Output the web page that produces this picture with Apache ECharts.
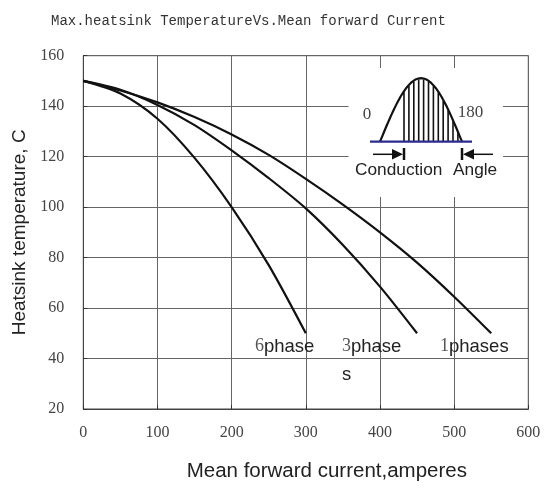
<!DOCTYPE html>
<html><head><meta charset="utf-8">
<script src="https://cdn.jsdelivr.net/npm/echarts@6/dist/echarts.min.js"></script>
<style>html,body{margin:0;padding:0;background:#fff}#c{width:549px;height:491px}</style>
</head><body><div id="c"></div>
<script>
// ---- data ----
const titleText = 'Max.heatsink TemperatureVs.Mean forward Current';
const xTicks = [0, 100, 200, 300, 400, 500, 600];
const yTicks = [20, 40, 60, 80, 100, 120, 140, 160];

const x6 = [0, 50, 100, 150, 200, 250, 300];
const y6 = [150, 145, 135, 119.5, 100, 77, 50];

const x3 = [0, 50, 100, 150, 200, 250, 300, 350, 400, 450];
const y3 = [150, 146.5, 140.5, 132.5, 122.5, 111.5, 99.5, 85, 68.5, 50];

const x1 = [0, 50, 100, 150, 200, 250, 300, 350, 400, 450, 500, 550];
const y1 = [150, 146.2, 141.5, 135.7, 128.8, 120.7, 111.2, 101, 90, 78, 64.5, 50];

const seriesNames = ['6phase', '3phases', '1phases'];
const insetLabels = ['0', '180', 'Conduction', 'Angle'];

function zip(xs, ys) { return xs.map((x, i) => [x, ys[i]]); }

// ---- inset geometry (illustration) ----
const ix0 = 380, ix1 = 462, iBase = 141.7, iAmp = 63.5;
const sinePts = [];
for (let i = 0; i <= 60; i++) {
  const t = i / 60;
  sinePts.push([ix0 + t * (ix1 - ix0), iBase - iAmp * Math.sin(Math.PI * t)]);
}
const hatch = [];
for (let x = 404; x < ix1 - 1; x += 4.9) {
  const t = (x - ix0) / (ix1 - ix0);
  hatch.push({ type: 'line', z: 12, shape: { x1: x, y1: iBase, x2: x, y2: iBase - iAmp * Math.sin(Math.PI * t) + 1 },
    style: { stroke: '#111', lineWidth: 1.6 } });
}

const serif = 'Liberation Serif';
const sans = 'Liberation Sans';

const chart = echarts.init(document.getElementById('c'), null, { renderer: 'canvas' });
const lineStyle = { color: '#111', width: 2.2 };
chart.setOption({
  animation: false,
  backgroundColor: '#fff',
  grid: { left: 83.3, right: 20.7, top: 55.7, bottom: 82, show: true, borderColor: '#444', borderWidth: 1 },
  xAxis: {
    type: 'value', min: 0, max: 600, interval: 100,
    name: 'Mean forward current,amperes', nameLocation: 'middle', nameGap: 52,
    nameTextStyle: { fontFamily: sans, fontSize: 20.5, color: '#222', padding: [0, 0, 0, 42] },
    axisLine: { show: true, lineStyle: { color: '#444', width: 1 } },
    axisTick: { show: true, inside: true, length: 4, lineStyle: { color: '#333' } },
    splitLine: { show: true, lineStyle: { color: '#666', width: 1 } },
    axisLabel: { margin: 16, fontFamily: serif, fontSize: 16, color: '#444',
      formatter: v => xTicks.includes(v) ? String(v) : '' }
  },
  yAxis: {
    type: 'value', min: 20, max: 160, interval: 20,
    name: 'Heatsink temperature, C', nameLocation: 'middle', nameGap: 49, nameRotate: 90,
    nameTextStyle: { fontFamily: sans, fontSize: 19, color: '#222' },
    axisLine: { show: true, lineStyle: { color: '#444', width: 1 } },
    axisTick: { show: true, inside: true, length: 4, lineStyle: { color: '#333' } },
    splitLine: { show: true, lineStyle: { color: '#666', width: 1 } },
    axisLabel: { margin: 19, fontFamily: serif, fontSize: 16, color: '#444',
      formatter: v => yTicks.includes(v) ? String(v) : '' }
  },
  title: {
    text: titleText, left: 46, top: 9,
    textStyle: { fontFamily: 'Liberation Mono', fontSize: 14, fontWeight: 'normal', color: '#333' }
  },
  series: [
    { name: seriesNames[0], type: 'line', data: zip(x6, y6), smooth: 0.3, symbol: 'none', lineStyle, z: 5 },
    { name: seriesNames[1], type: 'line', data: zip(x3, y3), smooth: 0.3, symbol: 'none', lineStyle, z: 5 },
    { name: seriesNames[2], type: 'line', data: zip(x1, y1), smooth: 0.3, symbol: 'none', lineStyle, z: 5 }
  ],
  graphic: { elements: [
    // curve labels
    { type: 'text', z: 20, left: 255, top: 337, style: { text: '{n|6}{p|phase}', rich: {
      n: { fontFamily: serif, fontSize: 18, fill: '#555' }, p: { fontFamily: sans, fontSize: 18.5, fill: '#222' } } } },
    { type: 'text', z: 20, left: 342, top: 337, style: { text: '{n|3}{p|phase}', rich: {
      n: { fontFamily: serif, fontSize: 18, fill: '#555' }, p: { fontFamily: sans, fontSize: 18.5, fill: '#222' } } } },
    { type: 'text', z: 20, left: 342, top: 365, style: { text: 's', font: '18.5px "Liberation Sans"', fill: '#222' } },
    { type: 'text', z: 20, left: 440, top: 337, style: { text: '{n|1}{p|phases}', rich: {
      n: { fontFamily: serif, fontSize: 18, fill: '#555' }, p: { fontFamily: sans, fontSize: 18.5, fill: '#222' } } } },
    // inset
    { type: 'rect', z: 10, shape: { x: 348.5, y: 68, width: 154.5, height: 129 }, style: { fill: '#fff' } },
    ...hatch,
    { type: 'polyline', z: 13, shape: { points: sinePts }, style: { stroke: '#111', lineWidth: 2.2, fill: null } },
    { type: 'line', z: 14, shape: { x1: 370, y1: iBase, x2: 472, y2: iBase }, style: { stroke: '#2a2a90', lineWidth: 2.2 } },
    { type: 'line', z: 12, shape: { x1: 404, y1: 148, x2: 404, y2: 160 }, style: { stroke: '#111', lineWidth: 2.5 } },
    { type: 'line', z: 12, shape: { x1: 462, y1: 148, x2: 462, y2: 160 }, style: { stroke: '#111', lineWidth: 2.5 } },
    { type: 'line', z: 12, shape: { x1: 373, y1: 154.3, x2: 395, y2: 154.3 }, style: { stroke: '#111', lineWidth: 1.5 } },
    { type: 'polygon', z: 12, shape: { points: [[392, 149], [403, 154.3], [392, 159.6]] }, style: { fill: '#111' } },
    { type: 'line', z: 12, shape: { x1: 493, y1: 154.3, x2: 471, y2: 154.3 }, style: { stroke: '#111', lineWidth: 1.5 } },
    { type: 'polygon', z: 12, shape: { points: [[474, 149], [463, 154.3], [474, 159.6]] }, style: { fill: '#111' } },
    { type: 'text', z: 15, x: 367, y: 115, style: { text: insetLabels[0], font: '17px "Liberation Serif"', fill: '#444', align: 'center', verticalAlign: 'middle' } },
    { type: 'text', z: 15, x: 470.5, y: 113, style: { text: insetLabels[1], font: '17px "Liberation Serif"', fill: '#444', align: 'center', verticalAlign: 'middle' } },
    { type: 'text', z: 15, x: 355, y: 170, style: { text: insetLabels[2], font: '17.3px "Liberation Sans"', fill: '#222', align: 'left', verticalAlign: 'middle' } },
    { type: 'text', z: 15, x: 453, y: 170, style: { text: insetLabels[3], font: '17.3px "Liberation Sans"', fill: '#222', align: 'left', verticalAlign: 'middle' } }
  ] }
});
</script>
</body></html>
